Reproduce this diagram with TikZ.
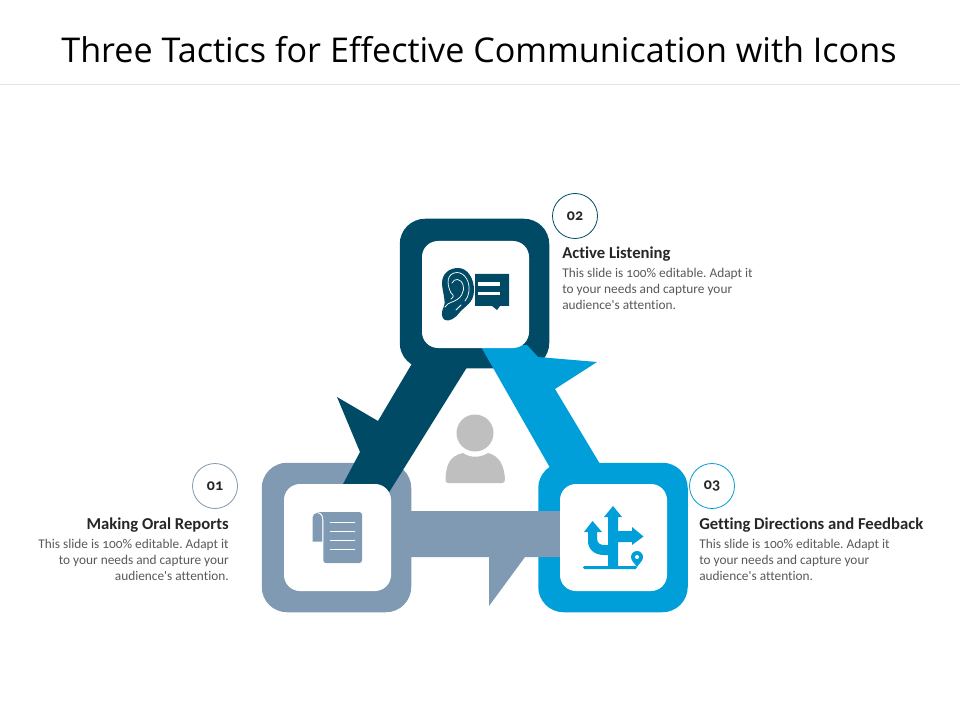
\documentclass[tikz,border=0pt]{standalone}
\usepackage{fontspec}
\newfontfamily\cf{Carlito}[Numbers=OldStyle,Ligatures=CommonOff]
\newfontfamily\titlefont{Open Sans}
\definecolor{dk}{HTML}{004A66}
\definecolor{bl}{HTML}{009FD9}
\definecolor{gr}{HTML}{7F9AB2}
\definecolor{pers}{HTML}{BFBFBF}
\definecolor{txt}{HTML}{595959}
\definecolor{hd}{HTML}{262626}
\newcommand{\bodytext}{This slide is 100\% editable. Adapt it\\to your needs and capture your\\audience's attention.}
\tikzset{
  outerbox/.style={minimum size=149.5*0.75pt,rounded corners=19pt,inner sep=0pt,draw=none},
  innerbox/.style={fill=white,minimum size=107*0.75pt,rounded corners=12pt,inner sep=0pt,draw=none},
  numc/.style={circle,fill=white,minimum size=45*0.75pt,inner sep=0pt,line width=0.6pt,font=\cf\fontsize{12pt}{14pt}\selectfont\bfseries,text=hd},
  heading/.style={inner sep=0pt,font=\cf\fontsize{12.5pt}{14pt}\selectfont\bfseries,text=hd},
  bodyl/.style={inner sep=0pt,align=left,text=txt,font=\cf\frenchspacing\fontsize{10pt}{12pt}\selectfont},
  bodyr/.style={inner sep=0pt,align=right,text=txt,font=\cf\frenchspacing\fontsize{10pt}{12pt}\selectfont},
  iconline/.style={white,line width=0.55pt,line cap=round},
}
\begin{document}
\begin{tikzpicture}[x=0.75pt,y=-0.75pt]
\useasboundingbox (0,0) rectangle (960,720);
\fill[white] (0,0) rectangle (960,720);
\node[inner sep=0pt,font=\titlefont\fontsize{25.6pt}{30pt}\selectfont,text=black] (title) at (479,50) {Three Tactics for Effective Communication with Icons};
\coordinate (ruleL) at (0,84); \coordinate (ruleR) at (960,84);
\draw[color=black!10,line width=0.6pt] (ruleL) -- (ruleR);
% outer boxes
\node[outerbox,fill=dk] (topO) at (474.5,293.5) {};
\node[outerbox,fill=gr] (leftO) at (336.5,537.5) {};
\node[outerbox,fill=bl] (rightO) at (613,537.5) {};
% arrows
\fill[dk] (342,486) -- (360,452) -- (337,397) -- (378,421) -- (420,350) -- (484,340) -- (388,494) -- (370,500) -- cycle;
\fill[bl] (480,345) -- (549,466) -- (570,490) -- (610,480) -- (600,464) -- (555,389) -- (597,362) -- (538,357) -- (527,345) -- cycle;
\fill[gr] (405,511) -- (565,511) -- (565,557) -- (525,557) -- (489,606) -- (489,557) -- (405,557) -- cycle;
% inner boxes
\node[innerbox] (topI) at (475.5,294.5) {};
\node[innerbox] (leftI) at (337.5,537.5) {};
\node[innerbox] (rightI) at (613.5,537.5) {};
% person
\fill[pers] (475,433) circle (18.5);
\fill[pers] (445.5,479) .. controls (446,466) and (449,456) .. (463,453) .. controls (470,458) and (480,458) .. (488,453) .. controls (500,456) and (504,466) .. (505,479) .. controls (505,482) and (504,483) .. (502,483) -- (448,483) .. controls (446,483) and (445.5,482) .. (445.5,479) -- cycle;
% ear icon
\fill[dk] (458,268) .. controls (468,268) and (474,279) .. (474,290) .. controls (474,303) and (465,306) .. (460,312) .. controls (456,318) and (449,322) .. (445,320) .. controls (441,318) and (441,312) .. (444,306) .. controls (446,301) and (442,290) .. (442,283) .. controls (442,274) and (449,268) .. (458,268) -- cycle;
\draw[iconline] (451,293) .. controls (446,283) and (447,273) .. (457,272.5) .. controls (465,272.5) and (470,282) .. (469,291) .. controls (468,296) and (467,299) .. (465,301);
\draw[iconline] (452,283) .. controls (454,278) and (461,278) .. (463,285) .. controls (465,292) and (461,299) .. (452,302) .. controls (449,303) and (447,304) .. (445,307);
\draw[iconline] (451,293) .. controls (454,295) and (454,297) .. (451,299);
\draw[iconline] (456,310) -- (461,305);
\fill[dk] (475,274) -- (509,274) -- (509,306) -- (500,306) -- (497,310) -- (492,306) -- (475,306) -- cycle;
\fill[white] (478,282.2) rectangle (500,285.7);
\fill[white] (478,292) rectangle (500,295.5);
% document icon
\fill[gr] (312.5,541.5) -- (312.5,519) .. controls (312.5,515) and (315,512.5) .. (318,512.5) .. controls (321,512.5) and (322.5,515) .. (322.5,519) -- (322.5,541.5) -- cycle;
\fill[gr] (318,512) -- (359,512) .. controls (361,512) and (362,513) .. (362,515) -- (362,560) .. controls (362,562) and (361,563) .. (359,563) -- (326,563) .. controls (324,563) and (323.3,562) .. (323.3,560) -- (323.3,520) .. controls (323.3,516) and (322,513) .. (318,512) -- cycle;
\draw[white,line width=0.6pt] (318,513) .. controls (321,513) and (322.8,516) .. (322.8,520) -- (322.8,542);
\foreach \yy in {522,531,540,549} \draw[white,line width=0.6pt] (330,\yy) -- (355,\yy);
% directions icon
\fill[bl,rounded corners=1pt] (583,566) rectangle (637,569);
\fill[bl] (608,567) -- (608,517) -- (604,517) -- (613,506) -- (622,517) -- (618,517) -- (618,531) -- (632,531) -- (632,527) -- (643.5,536.5) -- (632,545) -- (632,542) -- (618,542) -- (618,567) -- cycle;
\fill[bl] (588,532) -- (584,532) -- (592.5,521) -- (602,532) -- (597,532) -- (597,538) .. controls (597,543) and (600,545) .. (604,545) -- (610,545) -- (610,555) -- (604,555) .. controls (594,555) and (588,549) .. (588,541) -- cycle;
\fill[bl] (637,557) circle (6);
\fill[bl] (632,560.5) -- (637,567) -- (642,560.5) -- cycle;
\fill[white] (637,557) circle (2);
% numbers
\node[numc,draw=gr] (n1) at (215,486) {\raisebox{-0.8pt}{01}};
\node[numc,draw=dk] (n2) at (575,216) {\raisebox{-0.8pt}{02}};
\node[numc,draw=bl] (n3) at (712,486) {\raisebox{-0.8pt}{03}};
% texts
\node[heading,anchor=east] (h1) at (229,525) {Making Oral Reports};
\node[bodyr,anchor=north east] (b1) at (229,539) {\bodytext};
\node[heading,anchor=west] (h2) at (562,254) {Active Listening};
\node[bodyl,anchor=north west] (b2) at (562,268) {\bodytext};
\node[heading,anchor=west] (h3) at (699,525) {Getting Directions and Feedback};
\node[bodyl,anchor=north west] (b3) at (699,539) {\bodytext};
\end{tikzpicture}
\end{document}
